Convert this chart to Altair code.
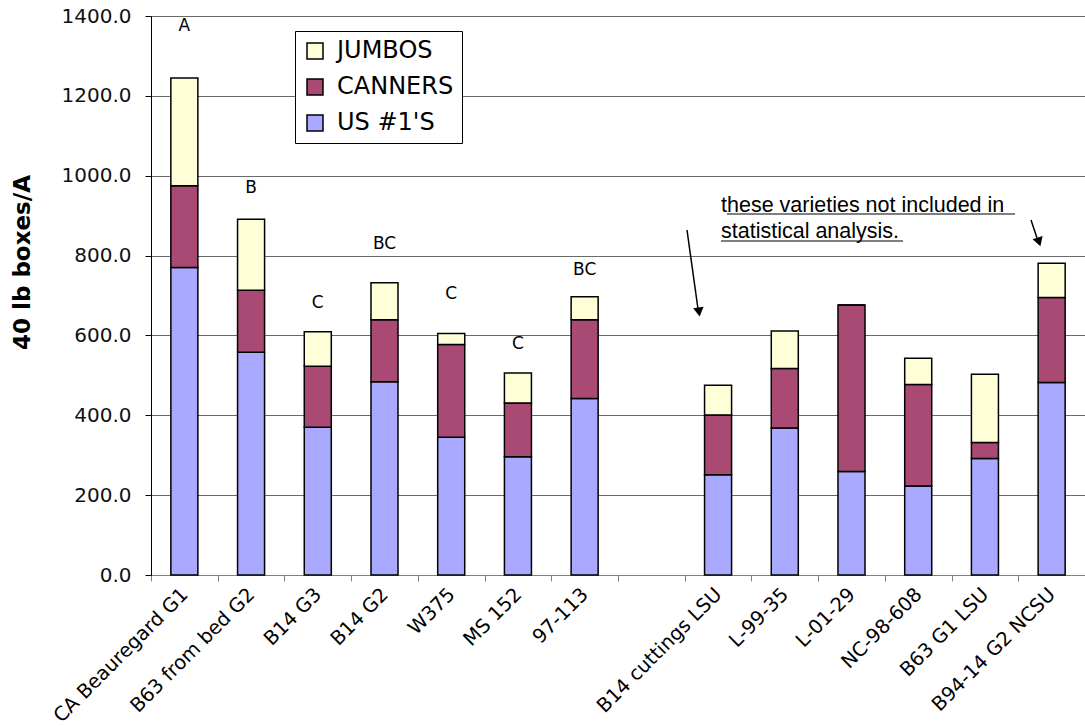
import altair as alt
import pandas as pd

# Varieties in plotting order; the blank entry separates the two groups.
varieties = [
    "CA Beauregard G1", "B63 from bed G2", "B14 G3", "B14 G2", "W375",
    "MS 152", "97-113", " ", "B14 cuttings LSU", "L-99-35", "L-01-29",
    "NC-98-608", "B63 G1 LSU", "B94-14 G2 NCSU",
]
plotted = [v for v in varieties if v.strip()]

# Yield by grade (40 lb boxes per acre)
us1 = [770, 558, 370, 484, 345, 296, 442, 251, 368, 259, 223, 292, 482]
canners = [205, 155, 153, 155, 232, 135, 197, 150, 149, 417, 254, 40, 213]
jumbos = [270, 178, 86, 93, 28, 75, 58, 74, 94, 0, 66, 171, 86]

grades = ["JUMBOS", "CANNERS", "US #1'S"]
grade_colors = ["#FFFFD7", "#A94A75", "#A9A9FF"]

# Mean separation letters and the height at which each is written
letter_varieties = ["CA Beauregard G1", "B63 from bed G2", "B14 G3", "B14 G2",
                    "W375", "MS 152", "97-113"]
letters = ["A", "B", "C", "BC", "C", "C", "BC"]
letter_heights = [1375, 968, 680, 830, 705, 578, 763]

rows = []
for i, v in enumerate(plotted):
    rows.append({"variety": v, "grade": "US #1'S", "boxes": us1[i], "stack": 0})
    rows.append({"variety": v, "grade": "CANNERS", "boxes": canners[i], "stack": 1})
    rows.append({"variety": v, "grade": "JUMBOS", "boxes": jumbos[i], "stack": 2})
bars_df = pd.DataFrame(rows)
letters_df = pd.DataFrame({"variety": letter_varieties, "letter": letters,
                           "height": letter_heights})

FONT = "DejaVu Sans"
x_enc = alt.X(
    "variety:N",
    sort=varieties,
    scale=alt.Scale(domain=varieties, paddingInner=0, paddingOuter=0),
    axis=alt.Axis(
        title=None, labelAngle=315, labelAlign="right", labelBaseline="middle",
        labelPadding=10, labelFont=FONT, labelFontSize=19.5, labelColor="black",
        labelLimit=400, tickBand="extent", tickSize=6, tickColor="#808080",
        domainColor="#808080", labelOverlap=False, grid=False,
    ),
)

y_scale = alt.Scale(domain=[0, 1400], nice=False)

bars = alt.Chart(bars_df).mark_bar(
    width=alt.RelativeBandSize(0.405), stroke="black", strokeWidth=1.5
).encode(
    x=x_enc,
    y=alt.Y(
        "sum(boxes):Q",
        scale=y_scale,
        axis=alt.Axis(
            values=[0, 200, 400, 600, 800, 1000, 1200, 1400], format=".1f",
            grid=True, gridColor="#6a6a6a", gridWidth=1,
            domainColor="black", tickColor="black", tickSize=6,
            labelFont=FONT, labelFontSize=20, labelColor="#111111", labelPadding=14,
            title="40 lb boxes/A", titleFont=FONT, titleFontSize=23,
            titleFontWeight="bold", titleColor="black", titleAngle=270,
            titleX=-129, titleY=246, titleAlign="center", titleBaseline="middle",
        ),
    ),
    color=alt.Color(
        "grade:N",
        scale=alt.Scale(domain=grades, range=grade_colors),
        legend=alt.Legend(
            orient="none", legendX=144, legendY=15, title=None,
            fillColor="white", strokeColor="black", padding=8,
            symbolType="square", symbolSize=256, symbolStrokeColor="black",
            symbolStrokeWidth=1.5, labelFont=FONT, labelFontSize=24,
            labelColor="black", labelOffset=10, rowPadding=12,
        ),
    ),
    order=alt.Order("stack:Q", sort="ascending"),
)

letter_marks = alt.Chart(letters_df).mark_text(
    font=FONT, fontSize=17, color="black"
).encode(
    x=alt.X("variety:N", sort=varieties),
    y=alt.Y("height:Q", scale=y_scale),
    text="letter:N",
)

# Note about the varieties left out of the analysis (underlined)
note_lines = ["these varieties not included in", "statistical analysis."]
note_style = dict(font="Liberation Sans", fontSize=21.5, color="black",
                  align="left", baseline="alphabetic")
note1 = alt.Chart(pd.DataFrame({"t": [note_lines[0]]})).mark_text(**note_style).encode(
    x=alt.value(570), y=alt.value(196), text="t:N")
note2 = alt.Chart(pd.DataFrame({"t": [note_lines[1]]})).mark_text(**note_style).encode(
    x=alt.value(570), y=alt.value(222), text="t:N")
underline1 = alt.Chart(pd.DataFrame({"a": [0]})).mark_rule(
    color="black", strokeWidth=1
).encode(x=alt.value(576), x2=alt.value(864), y=alt.value(198))
underline2 = alt.Chart(pd.DataFrame({"a": [0]})).mark_rule(
    color="black", strokeWidth=1
).encode(x=alt.value(570), x2=alt.value(752), y=alt.value(225))

# Arrows pointing at the first and last excluded varieties
shaft1 = alt.Chart(pd.DataFrame({"a": [0]})).mark_rule(
    color="black", strokeWidth=1.5
).encode(x=alt.value(536), y=alt.value(214), x2=alt.value(547), y2=alt.value(293))
head1 = alt.Chart(pd.DataFrame({"a": [0]})).mark_point(
    shape="triangle-down", filled=True, color="black", size=110, opacity=1,
    angle=352,
).encode(x=alt.value(548), y=alt.value(296))
shaft2 = alt.Chart(pd.DataFrame({"a": [0]})).mark_rule(
    color="black", strokeWidth=1.5
).encode(x=alt.value(880), y=alt.value(204), x2=alt.value(886), y2=alt.value(222))
head2 = alt.Chart(pd.DataFrame({"a": [0]})).mark_point(
    shape="triangle-down", filled=True, color="black", size=110, opacity=1,
    angle=342,
).encode(x=alt.value(888), y=alt.value(226))

chart = alt.layer(
    bars, letter_marks, note1, note2, underline1, underline2,
    shaft1, head1, shaft2, head2,
).properties(
    width=934,
    height=559,
    autosize=alt.AutoSizeParams(type="none"),
    padding={"left": 151, "top": 16, "right": 0, "bottom": 151},
    background="white",
).configure_view(stroke=None)

chart.save("out.html", embed_options={"renderer": "svg", "actions": False})
